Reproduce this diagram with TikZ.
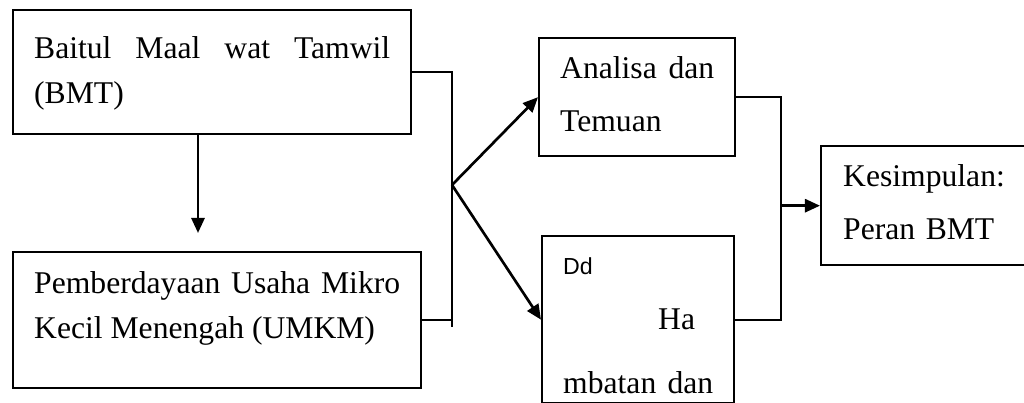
\documentclass[tikz,border=0pt]{standalone}
\usepackage{fontspec}
\setmainfont{Liberation Serif}
\newfontfamily\ddfont{Liberation Sans}
\usetikzlibrary{arrows.meta,positioning}

\begin{document}
\begin{tikzpicture}[
  box/.style={draw,line width=1.7pt,anchor=north west,inner ysep=0pt,inner xsep=0.525cm,align=justify},
  body/.style={font=\fontsize{22.5pt}{32pt}\selectfont},
  wide/.style={font=\fontsize{22.5pt}{37.7pt}\selectfont},
  link/.style={line width=1.5pt},
  arr/.style={-{Triangle[length=10.7pt,width=9.3pt]},line width=1.9pt}
]
  \clip (0,0) rectangle (25.6,10.075);
  % Input boxes
  \node[box,body,text width=8.9cm,text height=1.2cm,text depth=1.9cm] (bmt) at (0.3,9.85) {Baitul Maal wat Tamwil (BMT)};
  \node[box,body,text width=9.15cm,text height=1.025cm,text depth=2.375cm] (umkm) at (0.3,3.8) {Pemberdayaan Usaha Mikro Kecil Menengah (UMKM)};
  \coordinate (downtip) at (4.95,4.25);
  \draw[arr] (downtip |- bmt.south) -- (downtip);
  % Joining bracket
  \coordinate (busend) at (11.3,1.9);
  \coordinate (split) at (11.3,5.45);
  \draw[link] (bmt.east) -| (busend);
  \draw[link] (umkm.east) -- (umkm.east -| busend);
  % Middle boxes
  \node[box,wide,text width=3.85cm,text height=1.0cm,text depth=1.95cm] (analisa) at (13.45,9.15) {Analisa dan Temuan};
  \node[box,font=\fontsize{22.5pt}{39.1pt}\selectfont,text width=3.75cm,text height=0.95cm,text depth=3.225cm] (hambatan) at (13.525,4.2)
    {{\ddfont\fontsize{16.5pt}{18pt}\selectfont Dd}\\ \hspace*{2.375cm}Ha\\[6.4pt] mbatan\hspace{0pt plus 1fill}dan};
  \draw[arr] (split) -- (analisa.west);
  \draw[arr] (split) -- (hambatan.west);
  % Conclusion
  \node[box,wide,align=left,inner xsep=0.55cm,text width=4.5cm,text height=1.0cm,text depth=1.975cm] (kes) at (20.5,6.45) {Kesimpulan:\\ Peran BMT};
  \coordinate[left=0.975cm of kes.west] (merge);
  \draw[link] (analisa.east) -| (merge);
  \draw[link] (hambatan.east) -| (merge);
  \draw[arr] (merge) -- (kes.west);
\end{tikzpicture}
\end{document}
